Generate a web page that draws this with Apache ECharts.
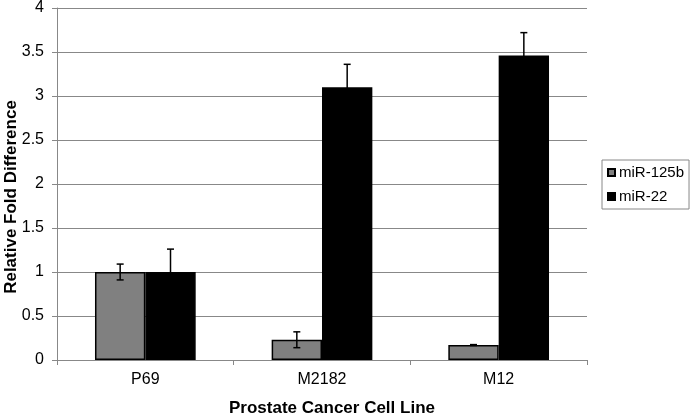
<!DOCTYPE html>
<html><head><meta charset="utf-8">
<script src="https://cdn.jsdelivr.net/npm/echarts@6/dist/echarts.min.js"></script>
<style>html,body{margin:0;padding:0;background:#fff}#c{width:691px;height:417px}</style>
</head><body><div id="c"></div>
<script>
const categories = ['P69', 'M2182', 'M12'];
const seriesNames = ['miR-125b', 'miR-22'];
const mir125b = [1.0, 0.23, 0.17];
const mir125bErr = [0.09, 0.09, 0.005];
const mir22 = [1.0, 3.1, 3.46];
const mir22Err = [0.26, 0.26, 0.26];
const yTicks = [0, 0.5, 1, 1.5, 2, 2.5, 3, 3.5, 4];
const xTitle = 'Prostate Cancer Cell Line';
const yTitle = 'Relative Fold Difference';

const BAR_FRAC = 0.285;
const font = 'Liberation Sans, Arial, sans-serif';

function errSeries(vals, errs, side) {
  return {
    type: 'custom',
    silent: true,
    z: 10,
    data: vals.map((v, i) => [i, v, errs[i]]),
    renderItem: function (params, api) {
      const i = api.value(0), v = api.value(1), e = api.value(2);
      const catW = api.size([1, 0])[0];
      const off = side * catW * BAR_FRAC / 2;
      const top = api.coord([i, v + e]);
      const bot = api.coord([i, v - e]);
      const x = top[0] + off;
      const cap = 3.5;
      const style = {stroke: '#000', lineWidth: 1.5};
      return {type: 'group', children: [
        {type: 'line', shape: {x1: x, y1: top[1], x2: x, y2: bot[1]}, style: style},
        {type: 'line', shape: {x1: x - cap, y1: top[1], x2: x + cap, y2: top[1]}, style: style},
        {type: 'line', shape: {x1: x - cap, y1: bot[1], x2: x + cap, y2: bot[1]}, style: style}
      ]};
    }
  };
}

const chart = echarts.init(document.getElementById('c'));
chart.setOption({
  animation: false,
  backgroundColor: '#fff',
  grid: {left: 57, top: 8, width: 530, height: 352, containLabel: false, outerBoundsMode: 'none'},
  graphic: [{
    type: 'text',
    x: 11, y: 197,
    rotation: Math.PI / 2,
    style: {text: yTitle, font: 'bold 17px Liberation Sans, Arial, sans-serif', fill: '#000',
            textAlign: 'center', textVerticalAlign: 'middle'}
  }],
  legend: {
    data: seriesNames,
    orient: 'vertical',
    left: 602, top: 160,
    padding: [5, 5, 5, 5],
    itemWidth: 7, itemHeight: 7, itemGap: 9,
    borderColor: '#888', borderWidth: 1,
    textStyle: {fontFamily: font, fontSize: 15, color: '#000', padding: [0, 0, 0, -1]},
    icon: 'rect'
  },
  xAxis: {
    type: 'category',
    data: categories,
    name: xTitle,
    nameLocation: 'middle',
    nameGap: 40,
    nameTextStyle: {fontFamily: font, fontSize: 17, fontWeight: 'bold', color: '#000', padding: [0, 0, 0, 20]},
    axisLine: {lineStyle: {color: '#888', width: 1}},
    axisTick: {show: true, length: 5, lineStyle: {color: '#888'}},
    axisLabel: {fontFamily: font, fontSize: 16, color: '#000', margin: 12},
    splitLine: {show: false}
  },
  yAxis: {
    type: 'value',
    min: yTicks[0], max: yTicks[yTicks.length - 1], interval: 0.5,
    axisLine: {show: true, lineStyle: {color: '#888', width: 1}},
    axisTick: {show: true, length: 5, lineStyle: {color: '#888'}},
    axisLabel: {fontFamily: font, fontSize: 16, color: '#000', margin: 13},
    splitLine: {show: true, lineStyle: {color: '#888', width: 1}}
  },
  series: [
    {name: seriesNames[0], type: 'bar', data: mir125b, barWidth: (BAR_FRAC * 100) + '%', barGap: '0%',
     itemStyle: {color: '#808080', borderColor: '#000', borderWidth: 1.5}},
    {name: seriesNames[1], type: 'bar', data: mir22, barWidth: (BAR_FRAC * 100) + '%', barGap: '0%',
     itemStyle: {color: '#000', borderColor: '#000', borderWidth: 1.5}},
    errSeries(mir125b, mir125bErr, -1),
    errSeries(mir22, mir22Err, 1)
  ]
});
</script></body></html>
